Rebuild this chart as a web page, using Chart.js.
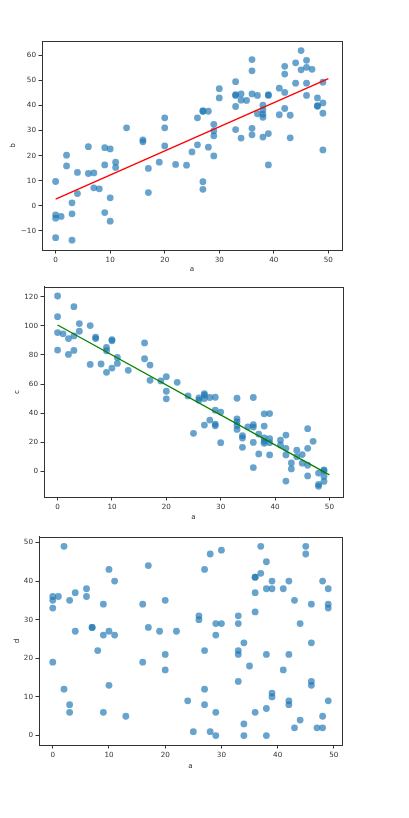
<!DOCTYPE html>
<html lang="en">
<head>
<meta charset="UTF-8">
<title>a vs b, c, d</title>
<script src="https://cdn.jsdelivr.net/npm/chart.js"></script>
<style>
    body { margin: 0; background: #fff; }
    .plot { position: absolute; left: 0; }
</style>
</head>
<body>
<div class="plot" style="top:0px"><canvas id="plotB" width="409" height="280"></canvas></div>
<div class="plot" style="top:280px"><canvas id="plotC" width="409" height="250"></canvas></div>
<div class="plot" style="top:530px"><canvas id="plotD" width="409" height="288"></canvas></div>
<script>
// column a, grouped by value
const colA = [0,0,0,0, 1, 2,2, 3,3,3, 4,4, 6,6, 7,7, 8, 9,9,9, 10,10,10, 11,11, 13, 16,16, 17,17, 19,
    20,20,20, 22, 24, 25, 26,26, 27,27,27,27, 28,28, 29,29,29,29, 30,30, 33,33,33,33,33, 34,34,34, 35,
    36,36,36,36,36, 37,37, 38,38,38,38,38, 39,39,39,39, 41,41, 42,42,42,42, 43,43, 44,44, 45,45,
    46,46,46,46, 47, 48,48,48, 49,49,49,49];

const colB = [9.7,-3.6,-4.9,-12.7, -4.2, 20.2,15.9, 1.2,-3.2,-13.7, 13.3,4.9, 23.6,12.9, 13.1,7.2, 6.8,
    23.2,16.3,-2.7, 22.7,3.2,-6.1, 17.4,15.3, 31.1, 26.3,25.5, 14.9,5.3, 17.4, 35.1,31.1,23.9, 16.5, 16.2,
    21.5, 35.1,24.3, 37.9,37.6,9.6,6.6, 37.7,23.4, 32.5,29.9,27.9,19.9, 46.7,43.0, 49.5,44.3,44.0,39.6,30.4,
    44.6,42.1,27.0, 42.0, 58.3,53.8,44.6,30.9,28.3, 44.0,36.7, 40.1,38.2,36.5,35.3,27.4, 44.3,44.0,28.8,16.3,
    46.9,36.3, 55.6,52.5,45.2,38.8, 36.1,27.1, 57.0,48.9, 61.9,54.2, 58.0,55.2,48.9,44.0, 54.4,
    43.0,39.9,39.7, 49.3,41.0,36.9,22.3];

const colC = [120.5,106.3,95.4,83.4, 94.5, 91.3,80.4, 113.2,93.1,83.1, 101.6,96.3, 100.2,73.5, 92.2,91.3,
    73.8, 85.2,82.9,68.1, 90.6,89.7,71.0, 78.3,74.2, 69.5, 88.3,77.4, 73.1,62.6, 62.2, 65.1,55.1,49.9, 61.2,
    51.9, 26.2, 50.5,49.0, 53.5,52.4,50.1,31.9, 50.8,35.3, 51.0,42.1,32.6,31.4, 40.8,19.8,
    50.3,36.2,34.2,31.6,28.9, 24.6,23.0,16.6, 30.7, 50.8,32.1,30.5,20.0,2.7, 25.7,12.1,
    39.6,31.2,23.0,20.7,19.4, 39.8,22.5,19.8,11.4, 21.6,18.2, 25.0,15.9,11.4,-6.6, 5.9,1.8, 14.6,10.2,
    11.6,5.7, 29.4,15.9,4.3,-3.0, 20.7, -1.1,-8.9,-10.2, 1.1,0.5,-3.4,-6.8];

const colD = [36,35,33,19, 36, 49,12, 35,8,6, 37,27, 38,36, 28,28, 22, 34,26,6, 43,27,13, 40,26, 5,
    34,19, 44,28, 27, 35,21,17, 27, 9, 1, 31,30, 43,22,12,8, 47,1, 29,26,6,0, 48,29, 31,29,22,21,14,
    24,3,0, 18, 41,41,37,32,6, 49,42, 45,38,21,7,0, 40,38,11,10, 38,17, 40,21,9,8, 35,2, 29,4, 49,47,
    34,24,14,13, 2, 40,5,2, 38,34,33,9];

// fitted lines, read at a = 0 and a = 50
const fitX = [0, 50];
const fitB = [2.7, 50.7];
const fitC = [100.6, -2.3];

const ticksA = [0, 10, 20, 30, 40, 50];
const ticksB = [-10, 0, 10, 20, 30, 40, 50, 60];
const ticksC = [0, 20, 40, 60, 80, 100, 120];
const ticksD = [0, 10, 20, 30, 40, 50];

const font = { family: 'DejaVu Sans', size: 7.2 };
const ink = '#333';

// matplotlib draws a box round each axes
const frame = {
    id: 'frame',
    afterDraw(chart) {
        const a = chart.chartArea, ctx = chart.ctx;
        ctx.save();
        ctx.strokeStyle = ink;
        ctx.lineWidth = 1;
        ctx.strokeRect(Math.round(a.left) + 0.5, Math.round(a.top) + 0.5,
            Math.round(a.right - a.left), Math.round(a.bottom - a.top));
        ctx.restore();
    }
};

function pts(xs, ys) {
    return xs.map((x, i) => ({ x: x, y: ys[i] }));
}

function axis(cfg) {
    return {
        type: 'linear',
        min: cfg.min,
        max: cfg.max,
        afterBuildTicks: s => { s.ticks = cfg.ticks.map(v => ({ value: v })); },
        afterFit: s => { if (cfg.width) s.width = cfg.width; if (cfg.height) s.height = cfg.height; },
        grid: { drawOnChartArea: false, drawTicks: true, tickLength: 3.5, tickColor: ink, color: ink },
        border: { display: true, color: ink, width: 1 },
        ticks: {
            font: font, color: ink, padding: 2.5, maxRotation: 0, autoSkip: false,
            callback: v => String(v).replace('-', '\u2212')
        },
        title: { display: true, text: cfg.title, font: font, color: ink, padding: cfg.titlePad }
    };
}

function makePlot(id, ys, fit, lineColor, opt) {
    const datasets = [];
    if (fit) {
        datasets.push({
            type: 'line',
            data: pts(fitX, fit),
            borderColor: lineColor,
            borderWidth: 1.3,
            pointRadius: 0,
            showLine: true
        });
    }
    datasets.push({
        data: pts(colA, ys),
        backgroundColor: 'rgba(31,119,180,0.68)',
        borderWidth: 0,
        pointRadius: 3.4
    });
    new Chart(document.getElementById(id), {
        type: 'scatter',
        data: { datasets: datasets },
        plugins: [frame],
        options: {
            responsive: false,
            animation: false,
            layout: { padding: opt.pad },
            plugins: { legend: { display: false }, tooltip: { enabled: false } },
            scales: {
                x: axis({ min: opt.xMin, max: opt.xMax, ticks: ticksA, height: 30, title: 'a',
                    titlePad: { top: 0, bottom: opt.xTitlePad } }),
                y: axis({ min: opt.yMin, max: opt.yMax, ticks: opt.yTicks, width: opt.yWidth, title: opt.yTitle,
                    titlePad: { top: opt.yTitlePad, bottom: 0 } })
            }
        }
    });
}

makePlot('plotB', colB, fitB, '#ff0000', {
    pad: { top: 41, right: 67, left: 0, bottom: 0 },
    xMin: -2.5, xMax: 52.5, yMin: -17.6, yMax: 65.7, yTicks: ticksB,
    yWidth: 42, yTitle: 'b', yTitlePad: 8.5, xTitlePad: 6.7
});

makePlot('plotC', colC, fitC, '#008000', {
    pad: { top: 6, right: 66, left: 0, bottom: 3 },
    xMin: -2.5, xMax: 52.5, yMin: -17.5, yMax: 126.8, yTicks: ticksC,
    yWidth: 44, yTitle: 'c', yTitlePad: 12.5, xTitlePad: 5.7
});

makePlot('plotD', colD, null, null, {
    pad: { top: 5, right: 67, left: 0, bottom: 43 },
    xMin: -2.45, xMax: 51.45, yMin: -2.45, yMax: 51.45, yTicks: ticksD,
    yWidth: 39, yTitle: 'd', yTitlePad: 12.5, xTitlePad: 4.7
});
</script>
</body>
</html>
